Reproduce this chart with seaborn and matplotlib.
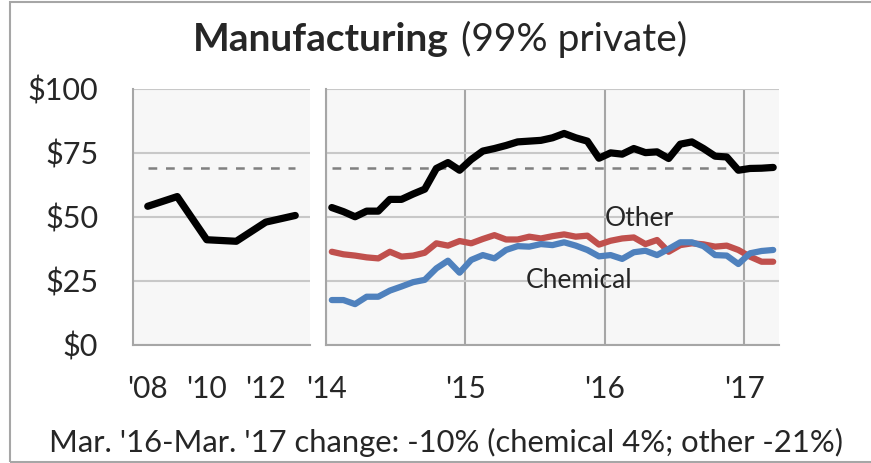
import numpy as np
import pandas as pd
import seaborn as sns
import matplotlib.pyplot as plt
from matplotlib.patches import Rectangle

# annual averages, left panel (2008-2013)
years = ["2008", "2009", "2010", "2011", "2012", "2013"]
annual_total = [54.1, 57.9, 41.0, 40.4, 47.9, 50.5]
year_labels = ["'08", "'10", "'12"]

# monthly, right panel (Jan 2014 - Mar 2017)
months = pd.date_range("2014-01-01", "2017-03-01", freq="MS")
total = [53.6, 52.0, 50.0, 52.2, 52.2, 56.8, 56.8, 58.9, 60.8, 68.9, 71.2, 68.2,
         72.4, 75.7, 76.7, 77.9, 79.3, 79.6, 79.9, 80.9, 82.6, 80.9, 79.6, 72.9,
         75.0, 74.5, 76.7, 75.1, 75.4, 72.8, 78.4, 79.3, 76.7, 73.7, 73.4, 68.2,
         68.9, 69.0, 69.3]
chemical = [17.4, 17.4, 15.8, 18.7, 18.7, 21.1, 22.7, 24.4, 25.3, 29.8, 32.8, 28.1,
            33.1, 35.0, 33.7, 37.0, 38.5, 38.3, 39.3, 38.9, 40.0, 38.7, 37.0, 34.5,
            35.0, 33.5, 36.1, 36.7, 35.0, 37.4, 40.0, 40.0, 38.5, 35.0, 34.8, 31.5,
            35.7, 36.6, 37.0]
other = [36.3, 35.3, 34.8, 34.1, 33.7, 36.3, 34.4, 34.8, 35.9, 39.6, 38.7, 40.5,
         39.6, 41.3, 42.8, 41.1, 41.1, 42.2, 41.5, 42.4, 43.1, 42.2, 42.6, 39.1,
         40.6, 41.5, 41.9, 39.3, 40.9, 36.3, 38.9, 39.6, 39.2, 38.3, 38.7, 37.0,
         34.4, 32.4, 32.4]
year_ticks = ["'14", "'15", "'16", "'17"]
ref_level = 69.2

title_bold = "Manufacturing"
title_rest = "(99% private)"
footnote = "Mar. '16-Mar. '17 change: -10% (chemical 4%; other -21%)"

sns.set_style("white")
plt.rcParams['font.family'] = ['Lato', 'DejaVu Sans']

grid_c = "#c8c8c8"
spine_c = "#a6a6a6"
bg = "#f7f7f7"

W, H = 871, 463
fig = plt.figure(figsize=(W / 100, H / 100), dpi=100)

def frac(x0, y0, x1, y1):
    return [x0 / W, 1 - y1 / H, (x1 - x0) / W, (y1 - y0) / H]

ax1 = fig.add_axes(frac(133, 89, 310, 344.5))
ax2 = fig.add_axes(frac(326, 89, 779, 344.5))

for ax in (ax1, ax2):
    ax.set_facecolor(bg)
    ax.set_ylim(0, 100)
    ax.set_yticks([0, 25, 50, 75, 100])
    ax.grid(axis='y', color=grid_c, lw=1.5)
    ax.set_axisbelow(True)
    for s in ['top', 'right']:
        ax.spines[s].set_visible(False)
    for s in ['left', 'bottom']:
        ax.spines[s].set_color(spine_c)
        ax.spines[s].set_linewidth(1.5)

# left panel
xa = np.arange(len(years))
ax1.hlines(ref_level, xa[0], xa[-1], color="#808080", lw=1.8, linestyles=(0, (3.5, 3.5)))
sns.lineplot(x=xa, y=annual_total, ax=ax1, color="black", lw=5.2)
ax1.set_xlim(-0.5, len(years) - 0.5)
ax1.set_xticks(np.arange(-0.5, len(years)), labels=[])
ax1.set_xticks(xa[::2], labels=year_labels, minor=True)
ax1.tick_params(axis='x', which='major', direction='in', length=8, width=1.5, color=spine_c)
ax1.tick_params(axis='x', which='minor', length=0, pad=22, labelsize=21.5)
ax1.set_yticks([0, 25, 50, 75, 100], labels=["$0", "$25", "$50", "$75", "$100"])
ax1.tick_params(axis='y', direction='out', length=11, width=1.5, color=spine_c,
                pad=14, labelsize=22)

# right panel
xm = np.arange(len(months))
ax2.hlines(ref_level, xm[0], xm[-1], color="#808080", lw=1.8, linestyles=(0, (3.5, 3.5)))
sns.lineplot(x=xm, y=other, ax=ax2, color="#c0504d", lw=4.5)
sns.lineplot(x=xm, y=chemical, ax=ax2, color="#4f81bd", lw=4.5)
sns.lineplot(x=xm, y=total, ax=ax2, color="black", lw=5.2)
ax2.set_xlim(-0.5, len(months) - 0.5)
jan = xm[months.month == 1] - 0.5
ax2.set_xticks(jan, labels=year_ticks)
ax2.set_xticks(np.arange(-0.5, len(months)), minor=True)
ax2.grid(axis='x', which='major', color=spine_c, lw=1.5)
ax2.tick_params(axis='x', which='major', direction='out', length=8, width=1.5,
                color=spine_c, pad=14, labelsize=21.5)
ax2.tick_params(axis='x', which='minor', direction='in', length=6, width=1.5, color=spine_c)
ax2.tick_params(axis='y', length=0, labelleft=False)

ax2.text(26.5, 49.5, "Other", ha='center', va='center', fontsize=19)
ax2.text(21.3, 25.1, "Chemical", ha='center', va='center', fontsize=19)

# title and footnote
fig.text(449 / W, 1 - 51 / H, title_bold, ha='right', va='baseline',
         fontsize=28, fontweight='bold')
fig.text(461 / W, 1 - 51 / H, title_rest, ha='left', va='baseline', fontsize=28)
fig.text(446 / W, 1 - 452 / H, footnote, ha='center', va='baseline', fontsize=22.3)

# outer frame
fig.patches.append(Rectangle((10 / W, 1.5 / H), 1.2, 1 - 3 / H, transform=fig.transFigure,
                             fill=False, ec=spine_c, lw=1.5))

fig.savefig("out.png", dpi=100)
